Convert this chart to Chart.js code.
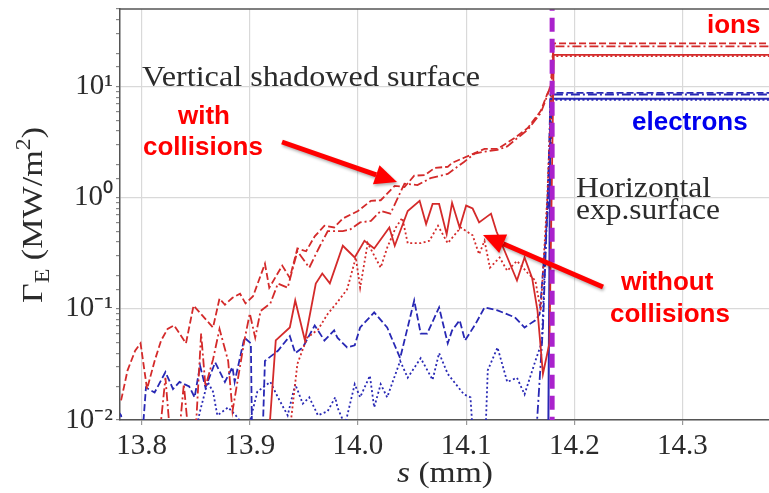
<!DOCTYPE html>
<html>
<head>
<meta charset="utf-8">
<script src="https://cdn.jsdelivr.net/npm/chart.js@4.4.0/dist/chart.umd.min.js"></script>
<style>
  html, body { margin: 0; padding: 0; background: #fff; }
  #wrap { width: 769px; height: 493px; position: relative; }
</style>
</head>
<body>
<div id="wrap"><canvas id="fluxChart"></canvas></div>
<script>
// ions, with collisions (dashed)
const ionsCollDashS = [13.781, 13.787, 13.794, 13.799, 13.805, 13.812, 13.818, 13.824, 13.830, 13.841, 13.848, 13.866, 13.872, 13.877, 13.884, 13.891, 13.896, 13.903, 13.914, 13.918, 13.930, 13.937, 13.944, 13.952, 13.960, 13.969, 13.978, 13.986, 14.000, 14.012, 14.021, 14.034, 14.043, 14.052, 14.062, 14.071, 14.083, 14.087, 14.098, 14.117, 14.129, 14.145, 14.157, 14.169, 14.175, 14.178, 14.181, 14.40];
const ionsCollDashFlux = [0.015, 0.028, 0.042, 0.049, 0.019, 0.034, 0.052, 0.066, 0.071, 0.049, 0.107, 0.068, 0.124, 0.109, 0.126, 0.137, 0.112, 0.13, 0.255, 0.155, 0.245, 0.19, 0.35, 0.33, 0.45, 0.56, 0.54, 0.65, 0.76, 0.94, 0.95, 1.28, 1.25, 1.58, 1.6, 1.86, 1.9, 2.06, 2.29, 2.75, 2.75, 3.46, 4.25, 6.05, 8.6, 9.7, 24.5, 24.5];

// ions, with collisions (dash-dot)
const ionsCollDotDashS = [13.801, 13.817, 13.822, 13.826, 13.835, 13.839, 13.843, 13.850, 13.855, 13.859, 13.866, 13.872, 13.880, 13.884, 13.895, 13.900, 13.905, 13.910, 13.919, 13.926, 13.935, 13.944, 13.955, 13.964, 13.972, 13.986, 13.993, 14.002, 14.012, 14.021, 14.030, 14.043, 14.055, 14.067, 14.083, 14.098, 14.108, 14.117, 14.129, 14.138, 14.145, 14.157, 14.169, 14.175, 14.179, 14.181, 14.40];
const ionsCollDotDashFlux = [0.008, 0.008, 0.024, 0.008, 0.008, 0.021, 0.008, 0.008, 0.06, 0.02, 0.035, 0.066, 0.034, 0.012, 0.052, 0.091, 0.055, 0.096, 0.112, 0.169, 0.155, 0.33, 0.235, 0.355, 0.5, 0.5, 0.52, 0.6, 0.62, 0.76, 0.72, 1.34, 1.3, 1.5, 1.64, 2.1, 2.5, 2.6, 2.7, 2.9, 3.3, 4.1, 5.8, 8.3, 11, 23, 23];

// ions, without collisions (solid)
const ionsNoCollS = [13.918, 13.924, 13.937, 13.942, 13.951, 13.961, 13.967, 13.974, 13.986, 13.997, 14.006, 14.015, 14.029, 14.034, 14.046, 14.057, 14.063, 14.069, 14.075, 14.082, 14.087, 14.094, 14.100, 14.106, 14.112, 14.123, 14.128, 14.147, 14.154, 14.161, 14.166, 14.171, 14.177, 14.181, 14.40];
const ionsNoCollFlux = [0.008, 0.052, 0.068, 0.119, 0.052, 0.169, 0.208, 0.17, 0.37, 0.29, 0.41, 0.35, 0.54, 0.37, 0.76, 0.94, 0.58, 0.88, 0.88, 0.47, 0.9, 0.54, 0.85, 0.8, 0.6, 0.72, 0.5, 0.18, 0.29, 0.19, 0.096, 0.026, 0.049, 19.3, 19.3];

// ions, without collisions (dotted)
const ionsNoCollDotS = [13.937, 13.944, 13.953, 13.963, 13.972, 13.981, 13.990, 13.998, 14.002, 14.009, 14.021, 14.027, 14.035, 14.041, 14.046, 14.058, 14.066, 14.074, 14.083, 14.095, 14.106, 14.112, 14.117, 14.122, 14.131, 14.138, 14.147, 14.157, 14.164, 14.169, 14.175, 14.180, 14.40];
const ionsNoCollDotFlux = [0.008, 0.032, 0.055, 0.065, 0.09, 0.115, 0.15, 0.29, 0.155, 0.39, 0.235, 0.355, 0.54, 0.66, 0.39, 0.39, 0.41, 0.56, 0.39, 0.54, 0.46, 0.31, 0.41, 0.235, 0.29, 0.22, 0.27, 0.21, 0.18, 0.096, 1.0, 18.8, 18.8];

// electrons, with collisions (dashed)
const elecCollDashS = [13.778, 13.781, 13.783, 13.801, 13.804, 13.812, 13.822, 13.829, 13.835, 13.844, 13.849, 13.854, 13.859, 13.868, 13.877, 13.884, 13.886, 13.895, 13.901, 13.902, 13.912, 13.914, 13.926, 13.937, 13.942, 13.949, 13.960, 13.969, 13.978, 13.981, 13.990, 13.997, 14.002, 14.015, 14.027, 14.039, 14.052, 14.058, 14.064, 14.075, 14.083, 14.087, 14.094, 14.099, 14.109, 14.117, 14.129, 14.145, 14.154, 14.164, 14.168, 14.177, 14.180, 14.40];
const elecCollDashFlux = [0.012, 0.011, 0.008, 0.008, 0.0196, 0.0177, 0.027, 0.019, 0.022, 0.02, 0.016, 0.031, 0.0196, 0.033, 0.022, 0.03, 0.022, 0.055, 0.049, 0.008, 0.008, 0.034, 0.042, 0.057, 0.04, 0.045, 0.071, 0.052, 0.064, 0.055, 0.045, 0.047, 0.068, 0.093, 0.068, 0.036, 0.119, 0.06, 0.06, 0.103, 0.049, 0.064, 0.079, 0.052, 0.074, 0.103, 0.097, 0.084, 0.068, 0.079, 0.09, 1.2, 8.8, 8.8];

// electrons, with collisions (dash-dot)
const elecCollDotDashS = [14.165, 14.171, 14.173, 14.176, 14.178, 14.40];
const elecCollDotDashFlux = [0.008, 0.068, 0.235, 1.5, 8.5, 8.5];

// electrons, without collisions (dotted)
const elecNoCollDotS = [13.778, 13.783, 13.850, 13.854, 13.861, 13.866, 13.870, 13.880, 13.887, 13.898, 13.907, 13.919, 13.926, 13.935, 13.942, 13.949, 13.955, 13.963, 13.972, 13.979, 13.981, 13.988, 13.997, 14.002, 14.011, 14.015, 14.021, 14.027, 14.039, 14.046, 14.058, 14.069, 14.075, 14.083, 14.098, 14.104, 14.106, 14.118, 14.120, 14.129, 14.138, 14.147, 14.154, 14.164, 14.170, 14.174, 14.179, 14.40];
const elecNoCollDotFlux = [0.012, 0.008, 0.008, 0.012, 0.022, 0.018, 0.011, 0.013, 0.011, 0.008, 0.018, 0.022, 0.016, 0.011, 0.021, 0.014, 0.016, 0.011, 0.012, 0.016, 0.013, 0.009, 0.021, 0.016, 0.025, 0.013, 0.021, 0.016, 0.034, 0.024, 0.036, 0.023, 0.04, 0.026, 0.017, 0.016, 0.008, 0.008, 0.028, 0.045, 0.022, 0.024, 0.017, 0.034, 0.05, 0.5, 7.6, 7.6];

// electrons, without collisions (solid)
const elecNoCollS = [14.176, 14.178, 14.40];
const elecNoCollFlux = [0.008, 7.8, 7.8];

// surface corner (vertical marker)
const cornerS = [14.1795, 14.1795];
const cornerFlux = [0.008, 60];

const xTickValues = [13.8, 13.9, 14.0, 14.1, 14.2, 14.3];
const yDecadeValues = [0.01, 0.1, 1, 10];
const yDecadeLabels = ['10⁻²', '10⁻¹', '10⁰', '10¹'];

const RED = '#d42a2a';
const BLUE = '#2828b4';
const SERIF = "'Liberation Serif', serif";
const SANS = "'Liberation Sans', Arial, sans-serif";

Chart.defaults.font.family = SERIF;

function points(xs, ys) {
  return xs.map((x, i) => ({ x: x, y: ys[i] }));
}

function decadeIndex(v) {
  for (let i = 0; i < yDecadeValues.length; i++) {
    if (Math.abs(v - yDecadeValues[i]) / yDecadeValues[i] < 1e-6) return i;
  }
  return -1;
}

function line(data, color, dash, width, order) {
  return {
    data: data,
    borderColor: color,
    borderDash: dash,
    borderWidth: width || 1.8,
    pointRadius: 0,
    tension: 0,
    fill: false,
    order: order === undefined ? 2 : order
  };
}

// text helpers
function fontFor(p, size) {
  const s = (p.sub || p.sup) ? size * 0.7 : size;
  return (p.italic ? 'italic ' : '') + s + 'px ' + SERIF;
}

function drawRich(ctx, parts, x, y, size, targetW) {
  let w = 0;
  parts.forEach(p => { ctx.font = fontFor(p, size); w += ctx.measureText(p.t).width; });
  ctx.save();
  ctx.translate(x, y);
  ctx.scale(targetW / w, 1);
  let cx = 0;
  parts.forEach(p => {
    ctx.font = fontFor(p, size);
    const dy = p.sub ? size * 0.22 : (p.sup ? -size * 0.4 : 0);
    ctx.fillText(p.t, cx, dy);
    cx += ctx.measureText(p.t).width;
  });
  ctx.restore();
}

function drawArrow(ctx, x1, y1, x2, y2) {
  const ang = Math.atan2(y2 - y1, x2 - x1);
  const headLen = 22, headW = 10;
  const bx = x2 - headLen * Math.cos(ang), by = y2 - headLen * Math.sin(ang);
  ctx.beginPath();
  ctx.moveTo(x1, y1);
  ctx.lineTo(bx, by);
  ctx.stroke();
  ctx.beginPath();
  ctx.moveTo(x2, y2);
  ctx.lineTo(bx + headW * Math.sin(ang), by - headW * Math.cos(ang));
  ctx.lineTo(bx - headW * Math.sin(ang), by + headW * Math.cos(ang));
  ctx.closePath();
  ctx.fill();
}

const overlay = {
  id: 'overlay',
  afterDraw(chart) {
    const ctx = chart.ctx;
    const a = chart.chartArea;
    ctx.save();

    // top frame line
    ctx.strokeStyle = '#555';
    ctx.lineWidth = 1.5;
    ctx.beginPath();
    ctx.moveTo(a.left, a.top);
    ctx.lineTo(a.right, a.top);
    ctx.stroke();

    ctx.fillStyle = '#2b2b2b';
    ctx.textAlign = 'left';
    ctx.textBaseline = 'alphabetic';

    // surfaces
    drawRich(ctx, [{ t: 'Vertical shadowed surface' }], 142, 86, 30, 338);
    drawRich(ctx, [{ t: 'Horizontal' }], 576, 197, 30, 135);
    drawRich(ctx, [{ t: 'exp.surface' }], 576, 219, 30, 144);

    // axis titles
    drawRich(ctx, [{ t: 's', italic: true }, { t: ' (mm)' }], 397, 482, 30, 96);
    ctx.save();
    ctx.translate(42, 303);
    ctx.rotate(-Math.PI / 2);
    drawRich(ctx, [{ t: 'Γ' }, { t: 'E', sub: true }, { t: ' (MW/m' }, { t: '2', sup: true }, { t: ')' }], 0, 0, 30, 176);
    ctx.restore();

    // annotations
    ctx.font = 'bold 26px ' + SANS;
    ctx.fillStyle = '#ff0000';
    ctx.fillText('with', 178, 124);
    ctx.fillText('collisions', 143, 155);
    ctx.fillText('without', 621, 290);
    ctx.fillText('collisions', 610, 322);
    ctx.fillText('ions', 707, 33);
    ctx.fillStyle = '#0000ee';
    ctx.fillText('electrons', 632, 130);

    // arrows
    ctx.strokeStyle = '#ff0000';
    ctx.fillStyle = '#ff0000';
    ctx.lineWidth = 5;
    ctx.shadowColor = 'rgba(0,0,0,0.3)';
    ctx.shadowBlur = 3;
    ctx.shadowOffsetX = 1;
    ctx.shadowOffsetY = 2;
    drawArrow(ctx, 282, 142, 397, 182);
    drawArrow(ctx, 603, 287, 483, 235);

    ctx.restore();
  }
};

const ctx = document.getElementById('fluxChart').getContext('2d');

new Chart(ctx, {
  type: 'line',
  data: {
    datasets: [
      line(points(cornerS, cornerFlux), '#aa22cc', [14, 7], 5, 0),
      line(points(ionsCollDashS, ionsCollDashFlux), RED, [7, 3]),
      line(points(ionsCollDotDashS, ionsCollDotDashFlux), RED, [9, 3, 2, 3]),
      line(points(ionsNoCollS, ionsNoCollFlux), RED, []),
      line(points(ionsNoCollDotS, ionsNoCollDotFlux), RED, [2, 2.5]),
      line(points(elecCollDashS, elecCollDashFlux), BLUE, [7, 3]),
      line(points(elecCollDotDashS, elecCollDotDashFlux), BLUE, [9, 3, 2, 3]),
      line(points(elecNoCollDotS, elecNoCollDotFlux), BLUE, [2, 2.5]),
      line(points(elecNoCollS, elecNoCollFlux), BLUE, [], 2)
    ]
  },
  options: {
    responsive: true,
    maintainAspectRatio: false,
    animation: false,
    devicePixelRatio: 1,
    layout: { padding: { top: 9, right: 0, left: 0, bottom: 0 } },
    plugins: {
      legend: { display: false },
      tooltip: { enabled: false }
    },
    scales: {
      x: {
        type: 'linear',
        min: 13.78,
        max: 14.38,
        afterBuildTicks: (scale) => { scale.ticks = xTickValues.map(v => ({ value: v })); },
        afterFit: (scale) => { scale.height = 73; scale.paddingRight = 0; scale.paddingLeft = 0; },
        ticks: {
          color: '#2b2b2b',
          font: { family: SERIF, size: 29 },
          padding: 4,
          maxRotation: 0,
          autoSkip: false,
          callback: (v) => Number(v).toFixed(1)
        },
        grid: { color: '#d9d9d9', lineWidth: 1.2, tickLength: 5, tickColor: '#999' },
        border: { color: '#555', width: 1.5 }
      },
      y: {
        type: 'logarithmic',
        min: 0.01,
        max: 50,
        afterFit: (scale) => { scale.width = 120; scale.paddingTop = 0; scale.paddingBottom = 0; },
        ticks: {
          color: '#2b2b2b',
          font: { family: SERIF, size: 29 },
          padding: 3,
          autoSkip: false,
          callback: (v) => {
            const i = decadeIndex(v);
            return i >= 0 ? yDecadeLabels[i] : '';
          }
        },
        grid: {
          color: (c) => decadeIndex(c.tick.value) >= 0 ? '#d9d9d9' : 'rgba(0,0,0,0)',
          lineWidth: 1.2,
          tickLength: 4,
          tickColor: '#888'
        },
        border: { color: '#555', width: 1.5 }
      }
    }
  },
  plugins: [overlay]
});
</script>
</body>
</html>
